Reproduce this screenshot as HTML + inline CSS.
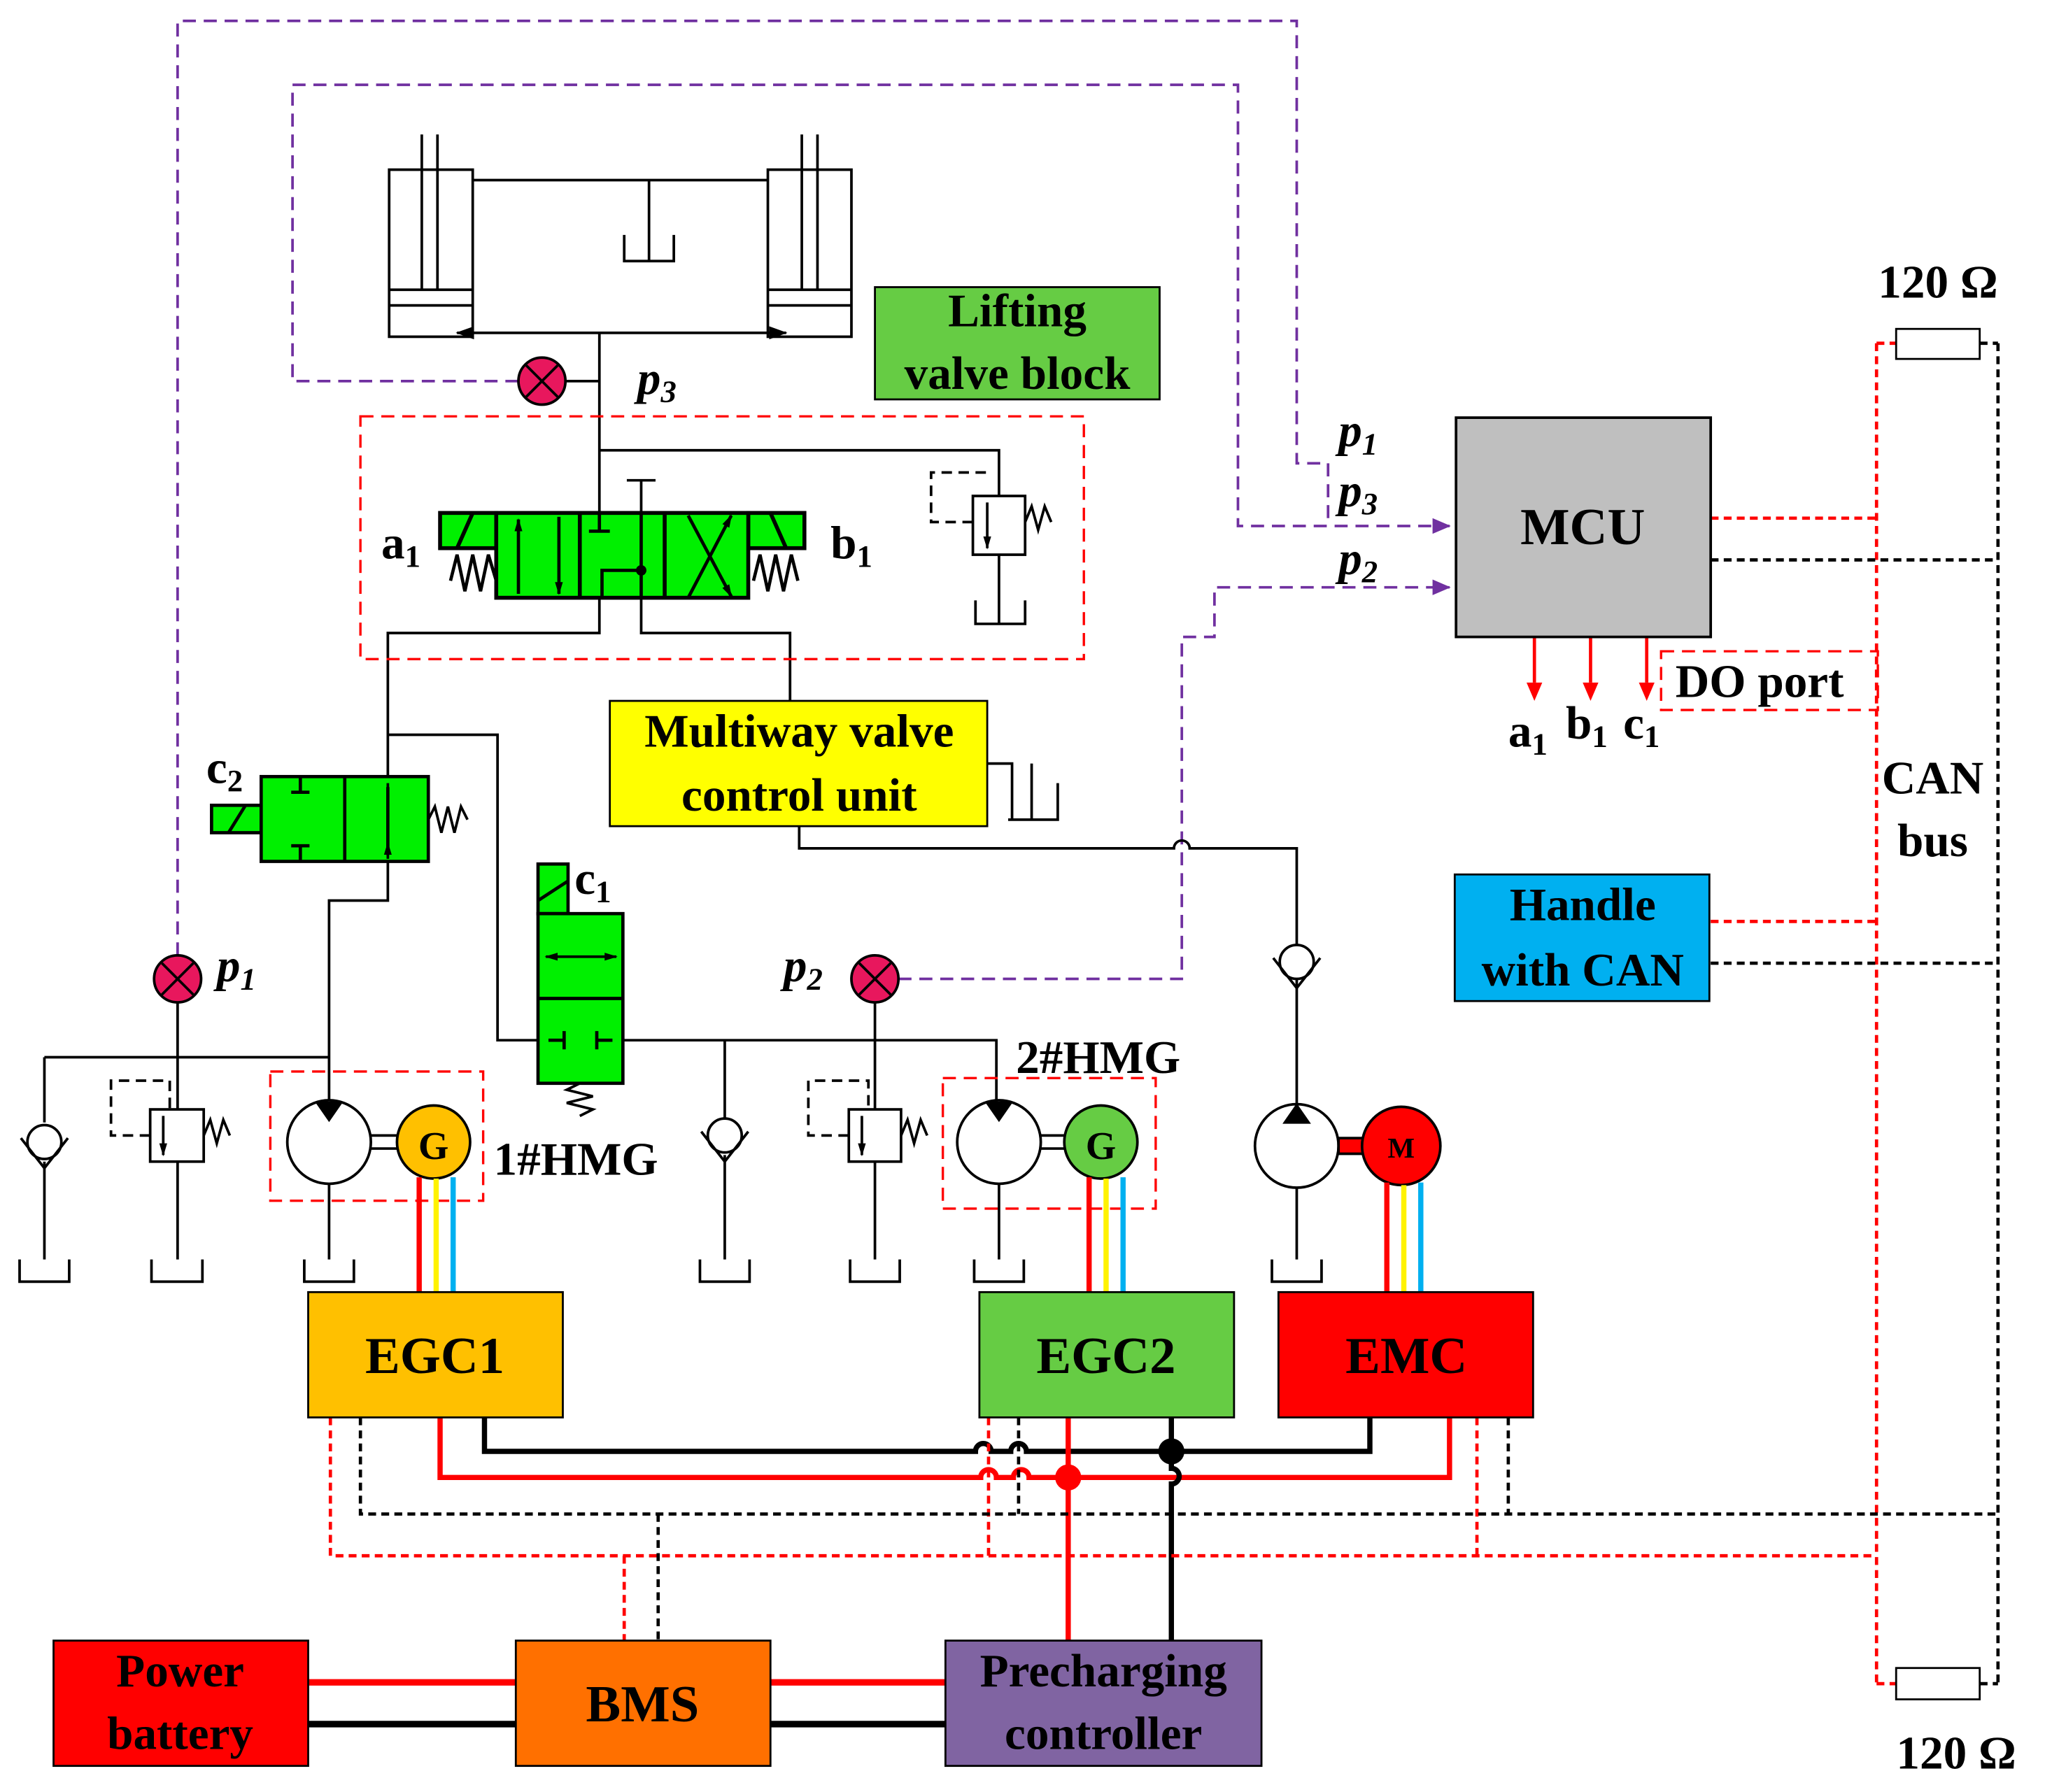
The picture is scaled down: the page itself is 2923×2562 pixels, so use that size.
<!DOCTYPE html>
<html><head><meta charset="utf-8"><style>
html,body{margin:0;padding:0;background:#fff;}
svg{display:block;}
text{font-family:"Liberation Serif",serif;font-weight:bold;fill:#000;}
</style></head><body>
<svg width="2923" height="2562" viewBox="0 0 1566 1373" preserveAspectRatio="none" xmlns="http://www.w3.org/2000/svg">
<defs>
<marker id="pa" markerWidth="14" markerHeight="12" refX="13" refY="6" orient="auto" markerUnits="userSpaceOnUse"><path d="M0,0 L14,6 L0,12Z" fill="#7030A0"/></marker>
<marker id="ka" markerWidth="10" markerHeight="10" refX="9" refY="5" orient="auto" markerUnits="userSpaceOnUse"><path d="M0,2 L10,5 L0,8Z" fill="#000"/></marker>
<marker id="ka2" markerWidth="10" markerHeight="10" refX="9" refY="5" orient="auto-start-reverse" markerUnits="userSpaceOnUse"><path d="M0,2 L10,5 L0,8Z" fill="#000"/></marker>
<marker id="kb" markerWidth="14" markerHeight="12" refX="13" refY="6" orient="auto-start-reverse" markerUnits="userSpaceOnUse"><path d="M0,1 L14,6 L0,11Z" fill="#000"/></marker>
</defs>
<g fill="none" stroke="#7030A0" stroke-width="2" stroke-dasharray="10,6">
<path d="M136,732 V16 H993 V355 H1017 V403"/>
<path d="M397,292 H224 V65 H948 V403 H1110" marker-end="url(#pa)"/>
<path d="M688,750 H905 V488 H930 V450 H1110" marker-end="url(#pa)"/>
</g>
<g fill="none" stroke="#000" stroke-width="2">
<rect x="298" y="130" width="64" height="128"/>
<rect x="588" y="130" width="64" height="128"/>
<path d="M323,103 V222 M335,103 V222 M614,103 V222 M626,103 V222"/>
<path d="M298,222 H362 M298,234 H362 M588,222 H652 M588,234 H652"/>
<path d="M362,138 H588"/>
<path d="M497,138 V200 M478,180 V200 H516 V180"/>
<path d="M350,255 H602" marker-end="url(#kb)" marker-start="url(#kb)"/>
<path d="M459,255 V393"/>
<path d="M433,292 H459"/>
<path d="M459,345 H765 V380"/>
<path d="M491,368 V393 M480,368 H502"/>
<path d="M459,458 V485 H297 V690 H252 V843"/>
<path d="M491,458 V485 H605 V537"/>
<path d="M297,563 H381 V797 H763 V843"/>
<path d="M612,633 V650 H899 A6,6 0 0 1 911,650 H993 V725"/>
<path d="M993,750 V846"/>
<path d="M136,768 V850 M136,890 V965"/>
<path d="M34,810 H252 M34,810 V860 M34,890 V965"/>
<path d="M555,797 V860 M555,885 V965"/>
<path d="M670,768 V850 M670,890 V965"/>
<path d="M252,907 V965 M765,907 V965 M993,910 V965"/>
<path d="M756,585 H775 V628 M790,585 V628 M772,628 H810 V600"/>
<path d="M15,965 V982 H53 V965 M116,965 V982 H155 V965 M233,965 V982 H271 V965 M536,965 V982 H574 V965 M651,965 V982 H689 V965 M746,965 V982 H784 V965 M974,965 V982 H1012 V965 M747,460 V478 H785 V460 M765,425 V478"/>
</g>
<g fill="#fff" stroke="#000" stroke-width="2">
<circle cx="34" cy="875" r="13"/><path d="M16,872 L34,895 L52,872" fill="none"/>
<circle cx="555" cy="870" r="13"/><path d="M537,867 L555,890 L573,867" fill="none"/>
<circle cx="993" cy="737" r="13"/><path d="M975,734 L993,757 L1011,734" fill="none"/>
</g>
<g stroke="#000" stroke-width="2" fill="#fff">
<rect x="115" y="850" width="41" height="40"/><path d="M125,855 V885" marker-end="url(#ka)" fill="none"/>
<path d="M156,870 l5,-12 l5,18 l5,-18 l5,12" fill="none"/>
<path d="M115,870 H85 V828 H130 V850" fill="none" stroke-dasharray="8,5"/>
<rect x="650" y="850" width="40" height="40"/><path d="M660,855 V885" marker-end="url(#ka)" fill="none"/>
<path d="M690,870 l5,-12 l5,18 l5,-18 l5,12" fill="none"/>
<path d="M650,870 H619 V828 H665 V850" fill="none" stroke-dasharray="8,5"/>
<rect x="745" y="380" width="40" height="45"/><path d="M756,385 V420" marker-end="url(#ka)" fill="none"/>
<path d="M785,400 l5,-12 l5,18 l5,-18 l5,12" fill="none"/>
<path d="M745,400 H713 V362 H760" fill="none" stroke-dasharray="8,5"/>
</g>
<g stroke="#000" stroke-width="2">
<circle cx="415" cy="292" r="18" fill="#E8175D"/><path d="M403,280 L427,304 M427,280 L403,304"/>
<circle cx="136" cy="750" r="18" fill="#E8175D"/><path d="M124,738 L148,762 M148,738 L124,762"/>
<circle cx="670" cy="750" r="18" fill="#E8175D"/><path d="M658,738 L682,762 M682,738 L658,762"/>
</g>
<g stroke="#000" stroke-width="3" fill="#00F000">
<rect x="337" y="393" width="43" height="27"/><rect x="573" y="393" width="43" height="27"/>
<rect x="380" y="393" width="193" height="65"/>
<path d="M444,393 V458 M509,393 V458" fill="none"/>
<path d="M350,420 L362,393 M602,420 L590,393" fill="none"/>
<path d="M345,445 l5,-20 l6,28 l6,-28 l6,28 l6,-28 l6,20 M577,445 l5,-20 l6,28 l6,-28 l6,28 l6,-28 l5,20" fill="none" stroke-width="2.5"/>
</g>
<g stroke="#000" stroke-width="2.5" fill="none">
<path d="M397,455 V398" marker-end="url(#ka)"/><path d="M428,396 V455" marker-end="url(#ka)"/>
<path d="M459,393 V407 M451,407 H467"/><path d="M491,393 V458 M461,458 V437 H491"/>
<path d="M527,458 L560,395" marker-end="url(#ka)"/><path d="M527,395 L560,457" marker-end="url(#ka)"/>
</g>
<circle cx="491" cy="437" r="4" fill="#000"/>
<rect x="276" y="319" width="554" height="186" fill="none" stroke="red" stroke-width="1.8" stroke-dasharray="10,6"/>
<g stroke="#000" stroke-width="2.5" fill="#00F000">
<rect x="162" y="617" width="38" height="21"/><rect x="200" y="595" width="128" height="65"/>
<path d="M264,595 V660 M175,638 L188,617 M230,595 V607 M223,607 H237 M230,660 V648 M223,648 H237" fill="none"/>
<path d="M297,603 V655" fill="none"/>
<path d="M328,628 l5,-10 l5,20 l5,-20 l5,20 l5,-20 l5,10" fill="none" stroke-width="2"/>
</g>
<path d="M297,600 V612 M297,658 V646" stroke="#000" stroke-width="2" marker-end="url(#ka)"/>
<g stroke="#000" stroke-width="2.5" fill="#00F000">
<rect x="412" y="662" width="23" height="38"/><rect x="412" y="700" width="65" height="130"/>
<path d="M412,765 H477 M412,690 L435,675" fill="none"/>
<path d="M420,797 H432 M432,790 V804 M469,797 H457 M457,790 V804" fill="none"/>
<path d="M444,830 l-10,5 l20,5 l-20,5 l20,5 l-10,5" fill="none" stroke-width="2"/>
</g>
<path d="M418,733 H472" stroke="#000" stroke-width="2" marker-end="url(#ka)" marker-start="url(#ka2)"/>
<g stroke="#000" stroke-width="2">
<circle cx="252" cy="875" r="32" fill="#fff"/><path d="M243,845 L252,858 L261,845Z" fill="#000"/>
<circle cx="765" cy="875" r="32" fill="#fff"/><path d="M756,845 L765,858 L774,845Z" fill="#000"/>
<circle cx="993" cy="878" r="32" fill="#fff"/><path d="M984,860 L993,847 L1002,860Z" fill="#000"/>
<path d="M284,870 H305 M284,880 H305 M797,870 H816 M797,880 H816" fill="none"/>
<rect x="1025" y="872" width="20" height="12" fill="red"/>
<circle cx="332" cy="875" r="28" fill="#FFC000"/>
<circle cx="843" cy="875" r="28" fill="#66CC44"/>
<circle cx="1073" cy="878" r="30" fill="red"/>
</g>
<rect x="207" y="821" width="163" height="99" fill="none" stroke="red" stroke-width="1.8" stroke-dasharray="10,6"/>
<rect x="722" y="826" width="163" height="100" fill="none" stroke="red" stroke-width="1.8" stroke-dasharray="10,6"/>
<g stroke-width="4">
<path d="M321,902 V993 M834,902 V993 M1062,906 V993" stroke="red"/>
<path d="M334,903 V993 M847,903 V993 M1075,908 V993" stroke="#FFF200"/>
<path d="M347,902 V993 M860,902 V993 M1088,906 V993" stroke="#00B0F0"/>
</g>
<g fill="none" stroke-width="4">
<path d="M371,1086 V1112 H747 a6,6 0 0 1 12,0 H774 a6,6 0 0 1 12,0 H1049 V1086" stroke="#000"/>
<path d="M337,1086 V1132 H751 a6,6 0 0 1 12,0 H776 a6,6 0 0 1 12,0 H1110 V1086" stroke="red"/>
<path d="M818,1086 V1257" stroke="red"/><path d="M897,1086 V1125 a6,6 0 0 1 0,12 V1257" stroke="#000"/>
<path d="M236,1289 H395 M590,1289 H724" stroke="red" stroke-width="5"/>
<path d="M236,1321 H395 M590,1321 H724" stroke="#000" stroke-width="5"/>
</g>
<circle cx="818" cy="1132" r="10" fill="red"/><circle cx="897" cy="1112" r="10" fill="#000"/>
<g fill="none" stroke-width="2.5" stroke-dasharray="6,4">
<path d="M253,1086 V1192 H1437 M757,1086 V1192 M1131,1086 V1192 M478,1192 V1257 M1310,397 H1437 M1310,706 H1437 M1437,263 V1290 M1437,263 H1452 M1437,1290 H1452" stroke="red"/>
<path d="M276,1086 V1160 H1530 M780,1086 V1160 M1155,1086 V1160 M504,1160 V1257 M1310,429 H1530 M1310,738 H1530 M1530,263 V1290 M1516,263 H1530 M1516,1290 H1530" stroke="#000"/>
</g>
<rect x="1452" y="252" width="64" height="23" fill="#fff" stroke="#000" stroke-width="1.5"/>
<rect x="1452" y="1278" width="64" height="24" fill="#fff" stroke="#000" stroke-width="1.5"/>
<g stroke="red" stroke-width="2.5" fill="none">
<path d="M1175,488 V523 M1218,488 V523 M1261,488 V523" />
</g>
<path d="M1169,523 H1181 L1175,537Z M1212,523 H1224 L1218,537Z M1255,523 H1267 L1261,537Z" fill="red"/>
<rect x="1272" y="499" width="166" height="45" fill="none" stroke="red" stroke-width="1.8" stroke-dasharray="10,6"/>
<g stroke="#000" stroke-width="1.5">
<rect x="670" y="220" width="218" height="86" fill="#66CC44"/>
<rect x="467" y="537" width="289" height="96" fill="#FFFF00"/>
<rect x="1115" y="320" width="195" height="168" fill="#BFBFBF" stroke-width="2"/>
<rect x="1114" y="670" width="195" height="97" fill="#00B0F0"/>
<rect x="236" y="990" width="195" height="96" fill="#FFC000"/>
<rect x="750" y="990" width="195" height="96" fill="#66CC44"/>
<rect x="979" y="990" width="195" height="96" fill="#FF0000"/>
<rect x="41" y="1257" width="195" height="96" fill="#FF0000"/>
<rect x="395" y="1257" width="195" height="96" fill="#FF7000"/>
<rect x="724" y="1257" width="242" height="96" fill="#8064A2"/>
</g>
<g font-size="36" text-anchor="middle">
<text x="779" y="250">Lifting</text><text x="779" y="298">valve block</text>
<text x="612" y="572">Multiway valve</text><text x="612" y="621">control unit</text>
<text x="1212" y="417" font-size="40">MCU</text>
<text x="1212" y="705">Handle</text><text x="1212" y="755">with CAN</text>
<text x="333" y="1052" font-size="40">EGC1</text>
<text x="847" y="1052" font-size="40">EGC2</text>
<text x="1077" y="1052" font-size="40">EMC</text>
<text x="138" y="1292">Power</text><text x="138" y="1340">battery</text>
<text x="492" y="1319" font-size="40">BMS</text>
<text x="845" y="1292">Precharging</text><text x="845" y="1340">controller</text>
<text x="332" y="888" font-size="30">G</text>
<text x="843" y="888" font-size="30">G</text>
<text x="1073" y="887" font-size="22">M</text>
<text x="1480" y="608">CAN</text><text x="1480" y="656">bus</text>
<text x="1484" y="228">120 Ω</text><text x="1498" y="1355">120 Ω</text>
</g>
<g font-size="36">
<text x="1283" y="534">DO port</text>
<text x="378" y="900">1#HMG</text>
<text x="778" y="822">2#HMG</text>
<text x="1155" y="572">a<tspan font-size="24" dy="6">1</tspan></text>
<text x="1199" y="566">b<tspan font-size="24" dy="6">1</tspan></text>
<text x="1243" y="566">c<tspan font-size="24" dy="6">1</tspan></text>
<text x="292" y="428">a<tspan font-size="24" dy="6">1</tspan></text>
<text x="636" y="428">b<tspan font-size="24" dy="6">1</tspan></text>
<text x="158" y="600">c<tspan font-size="24" dy="6">2</tspan></text>
<text x="440" y="685">c<tspan font-size="24" dy="6">1</tspan></text>
<text x="488" y="302" font-style="italic">p<tspan font-size="24" dy="6">3</tspan></text>
<text x="166" y="752" font-style="italic">p<tspan font-size="24" dy="6">1</tspan></text>
<text x="600" y="752" font-style="italic">p<tspan font-size="24" dy="6">2</tspan></text>
<text x="1025" y="342" font-style="italic">p<tspan font-size="24" dy="6">1</tspan></text>
<text x="1025" y="388" font-style="italic">p<tspan font-size="24" dy="6">3</tspan></text>
<text x="1025" y="440" font-style="italic">p<tspan font-size="24" dy="6">2</tspan></text>
</g>
</svg>
</body></html>
